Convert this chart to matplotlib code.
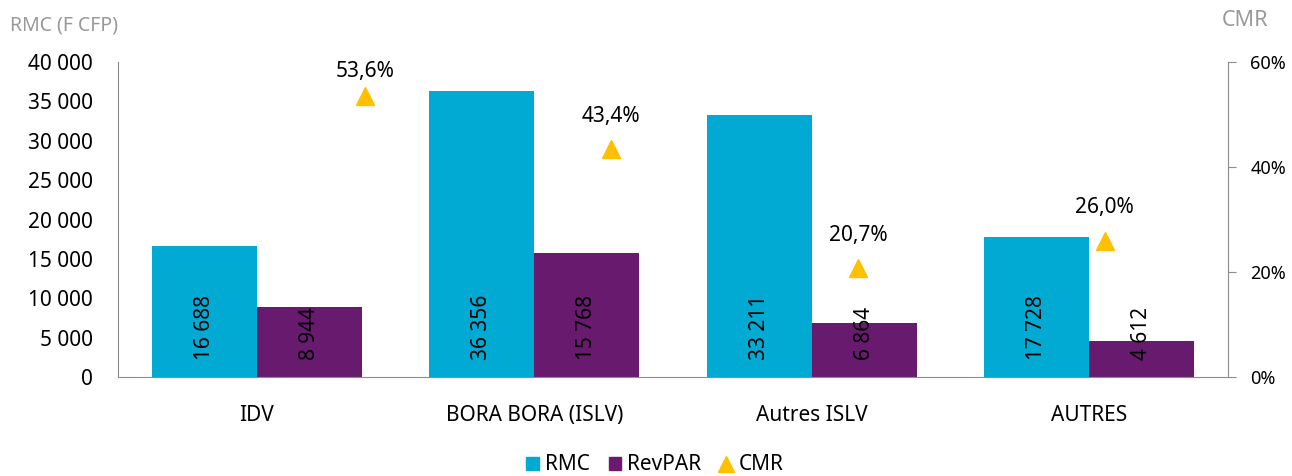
import numpy as np
import matplotlib.pyplot as plt
from matplotlib.lines import Line2D
from matplotlib.patches import Patch

plt.rcParams['font.family'] = ['Noto Sans', 'DejaVu Sans']

# Données
categories = ['IDV', 'BORA BORA (ISLV)', 'Autres ISLV', 'AUTRES']
rmc = [16688, 36356, 33211, 17728]
revpar = [8944, 15768, 6864, 4612]
cmr = [53.6, 43.4, 20.7, 26.0]

c_rmc = '#00AAD2'
c_rev = '#671A6E'
c_cmr = '#FFC000'
gris = '#8C8C8C'

def fmt(v):
    return f'{v:,}'.replace(',', ' ')

fig = plt.figure(figsize=(12.92, 4.76), dpi=100)
ax = fig.add_axes([118/1292, 1-377/476, 1110/1292, 315/476])

x = np.arange(len(categories))
w = 0.378
b1 = ax.bar(x - w/2, rmc, w, color=c_rmc)
b2 = ax.bar(x + w/2, revpar, w, color=c_rev)

# étiquettes dans les barres (base)
for bars, vals in [(b1, rmc), (b2, revpar)]:
    for b, v in zip(bars, vals):
        ax.annotate(fmt(v), (b.get_x() + b.get_width()/2, 0),
                    xytext=(0, 12), textcoords='offset points',
                    rotation=90, ha='center', va='bottom',
                    fontsize=15, color='black')

ax.set_xlim(-0.5, 3.5)
ax.set_ylim(0, 40000)
ax.set_yticks(np.arange(0, 40001, 5000))
ax.set_yticklabels([fmt(v) for v in range(0, 40001, 5000)], fontsize=15)
ax.set_xticks(x)
ax.set_xticklabels(categories, fontsize=15)
ax.tick_params(axis='y', length=0, pad=18)
ax.tick_params(axis='x', length=0, pad=20)
for s in ['top', 'right']:
    ax.spines[s].set_visible(False)
for s in ['left', 'bottom']:
    ax.spines[s].set_color(gris)

# axe secondaire CMR
ax2 = fig.add_axes(ax.get_position())
ax2.patch.set_visible(False)
for s in ['top', 'left', 'bottom']:
    ax2.spines[s].set_visible(False)
ax2.spines['right'].set_color(gris)
ax2.set_xlim(-1, 3.5)
ax2.set_ylim(0, 60)
ax2.plot(np.arange(len(cmr)), cmr, linestyle='none', marker='^',
         markersize=13, color=c_cmr)
for i, v in enumerate(cmr):
    ax2.text(i, min(v + 6.3, 58.1), f'{v:.1f}%'.replace('.', ','),
             ha='center', va='center', fontsize=15)
ax2.set_xticks([])
ax2.yaxis.tick_right()
ax2.set_yticks([0, 20, 40, 60])
ax2.set_yticklabels(['0%', '20%', '40%', '60%'], fontsize=13)
ax2.tick_params(axis='y', length=6, color=gris, pad=10)

fig.text(10/1292, 1-25/476, 'RMC (F CFP)', color='#999999', fontsize=14,
         va='center', ha='left')
fig.text(1222/1292, 1-21/476, 'CMR', color='#999999', fontsize=15.5,
         va='center', ha='left')

handles = [Patch(color=c_rmc, label='RMC'), Patch(color=c_rev, label='RevPAR'),
           Line2D([], [], linestyle='none', marker='^', color=c_cmr,
                  markersize=11, label='CMR')]
fig.legend(handles=handles, loc='center', bbox_to_anchor=(655/1292, 1-465/476),
           ncol=3, frameon=False, fontsize=15, handlelength=0.6,
           handleheight=0.6, handletextpad=0.3, columnspacing=0.9,
           borderpad=0)

fig.savefig('out.png', dpi=100)
